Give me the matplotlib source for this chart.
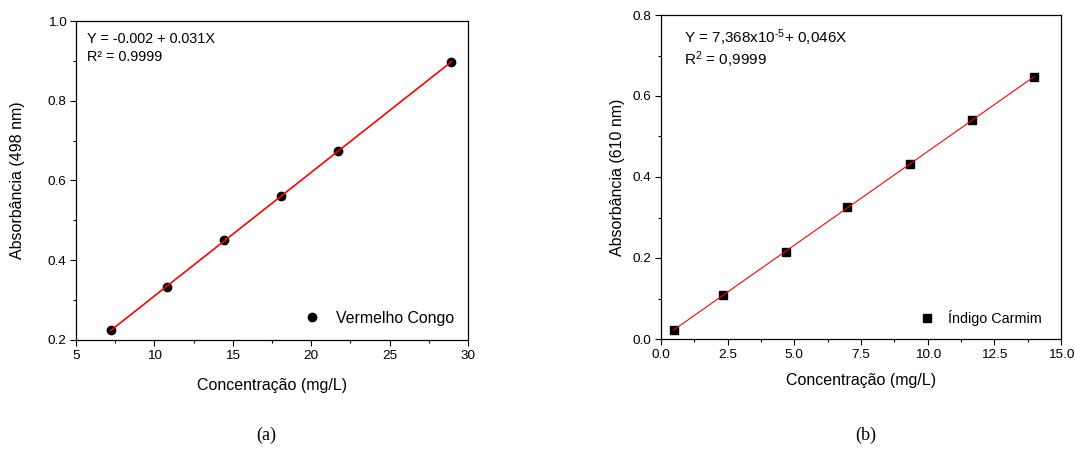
import numpy as np
import matplotlib
matplotlib.use("Agg")
import matplotlib.pyplot as plt
from matplotlib.ticker import MultipleLocator, FormatStrFormatter

plt.rcParams['font.family'] = ['Liberation Sans', 'DejaVu Sans']
plt.rcParams['mathtext.fontset'] = 'custom'
plt.rcParams['mathtext.rm'] = 'Liberation Sans'
plt.rcParams['mathtext.it'] = 'Liberation Sans:italic'

# Data (a) Vermelho Congo
conc_a = [7.22, 10.82, 14.45, 18.07, 21.69, 28.94]
abs_a = [0.225, 0.333, 0.450, 0.560, 0.674, 0.897]
# Data (b) Indigo Carmim
conc_b = [0.47, 2.34, 4.67, 6.99, 9.32, 11.66, 13.99]
abs_b = [0.021, 0.109, 0.216, 0.325, 0.433, 0.540, 0.646]

W, H = 1075, 463
fig = plt.figure(figsize=(W / 100, H / 100), dpi=100)

def box(l, t, r, b):
    return [l / W, (H - b) / H, (r - l) / W, (b - t) / H]

ax1 = fig.add_axes(box(76, 21, 468, 340))
ax2 = fig.add_axes(box(661, 15, 1061, 339))

fs_tick = 9.7
fs_lab = 11.5

def style(ax):
    ax.tick_params(which='major', direction='out', length=4, width=0.8,
                   labelsize=fs_tick, top=False, right=False, pad=3)
    ax.tick_params(which='minor', direction='out', length=2.5, width=0.8,
                   top=False, right=False)
    for s in ax.spines.values():
        s.set_linewidth(0.9)

# Panel (a)
pa = np.polyfit(conc_a, abs_a, 1)
xa = np.array([conc_a[0], conc_a[-1]])
ax1.plot(xa, np.polyval(pa, xa), color='red', lw=1.2, zorder=3)
ax1.plot(conc_a, abs_a, 'o', color='black', ms=6, zorder=2, label='Vermelho Congo')
ax1.set_xlim(5, 30)
ax1.set_ylim(0.2, 1.0)
ax1.xaxis.set_major_locator(MultipleLocator(5))
ax1.xaxis.set_minor_locator(MultipleLocator(2.5))
ax1.yaxis.set_major_locator(MultipleLocator(0.2))
ax1.yaxis.set_minor_locator(MultipleLocator(0.1))
ax1.yaxis.set_major_formatter(FormatStrFormatter('%.1f'))
style(ax1)
ax1.set_xlabel('Concentração (mg/L)', fontsize=fs_lab, labelpad=12)
ax1.set_ylabel('Absorbância (498 nm)', fontsize=fs_lab, labelpad=16)
ax1.text(0.028, 0.966, 'Y = -0.002 + 0.031X\nR² = 0.9999', transform=ax1.transAxes,
         fontsize=10.4, va='top', ha='left', linespacing=1.4)
ax1.legend(loc='lower right', frameon=False, fontsize=11.4, handlelength=1.2,
           handletextpad=0.9, borderaxespad=0.5, bbox_to_anchor=(1.0, 0.0))

# Panel (b)
pb = np.polyfit(conc_b, abs_b, 1)
xb = np.array([conc_b[0], conc_b[-1]])
ax2.plot(xb, np.polyval(pb, xb), color='red', lw=0.8, zorder=3)
ax2.plot(conc_b, abs_b, 's', color='black', ms=5.5, zorder=2, label='Índigo Carmim')
ax2.set_xlim(0, 15)
ax2.set_ylim(0, 0.8)
ax2.xaxis.set_major_locator(MultipleLocator(2.5))
ax2.xaxis.set_minor_locator(MultipleLocator(1.25))
ax2.yaxis.set_major_locator(MultipleLocator(0.2))
ax2.yaxis.set_minor_locator(MultipleLocator(0.1))
ax2.xaxis.set_major_formatter(FormatStrFormatter('%.1f'))
ax2.yaxis.set_major_formatter(FormatStrFormatter('%.1f'))
style(ax2)
ax2.set_xlabel('Concentração (mg/L)', fontsize=fs_lab, labelpad=9)
ax2.set_ylabel('Absorbância (610 nm)', fontsize=fs_lab, labelpad=5)
ax2.text(0.057, 0.963, r'Y = 7,368x10$^{\text{-5}}$+ 0,046X', transform=ax2.transAxes,
         fontsize=11, va='top', ha='left')
ax2.text(0.057, 0.893, r'R$^{\text{2}}$ = 0,9999', transform=ax2.transAxes,
         fontsize=11, va='top', ha='left')
ax2.legend(loc='lower right', frameon=False, fontsize=10.4, handlelength=1.2,
           handletextpad=0.9, borderaxespad=0.5, bbox_to_anchor=(0.985, 0.0))

fig.text(266 / W, 1 - 435 / H, '(a)', fontsize=13, family='Liberation Serif',
         ha='center', va='center')
fig.text(866 / W, 1 - 435 / H, '(b)', fontsize=13, family='Liberation Serif',
         ha='center', va='center')

fig.savefig('out.png', dpi=100)
